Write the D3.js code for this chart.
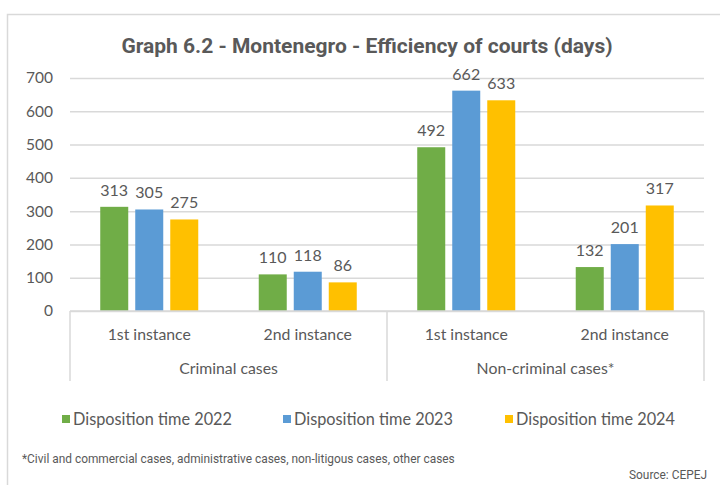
<!DOCTYPE html>
<html>
<head>
<meta charset="utf-8">
<script src="https://cdn.jsdelivr.net/npm/d3@7"></script>
<style>
  body { margin: 0; background: #fff; }
  svg { display: block; }
  text { fill: #595959; }
</style>
</head>
<body>
<svg id="chart" width="720" height="485"></svg>
<script>
// ---- data ----
const groups = ["Criminal cases", "Non-criminal cases*"];
const instances = ["1st instance", "2nd instance", "1st instance", "2nd instance"];
const seriesNames = ["Disposition time 2022", "Disposition time 2023", "Disposition time 2024"];
const dt2022 = [313, 110, 492, 132];
const dt2023 = [305, 118, 662, 201];
const dt2024 = [275, 86, 633, 317];
const yTicks = [0, 100, 200, 300, 400, 500, 600, 700];
const colors = ["#70AD47", "#5B9BD5", "#FFC000"];

const series = [dt2022, dt2023, dt2024];

// ---- layout ----
const svg = d3.select("#chart");
const plot = { left: 70, right: 704, top: 78, bottom: 311 };
const chartFont = "Lato, 'Open Sans', sans-serif";

// chart frame
svg.append("rect")
  .attr("x", 7.5).attr("y", 14.5)
  .attr("width", 730).attr("height", 490)
  .attr("fill", "none").attr("stroke", "#d9d9d9").attr("stroke-width", 1.5);

// title
svg.append("text")
  .attr("x", 367).attr("y", 53)
  .attr("text-anchor", "middle")
  .style("font-family", "Roboto, sans-serif")
  .style("font-weight", "bold")
  .style("font-size", "21px")
  .text("Graph 6.2 - Montenegro - Efficiency of courts (days)");

// scales
const x = d3.scaleBand()
  .domain(d3.range(instances.length))
  .range([plot.left, plot.right])
  .paddingInner(0).paddingOuter(0);

const xs = d3.scaleBand()
  .domain(d3.range(series.length))
  .range([0, x.bandwidth()])
  .paddingInner(0.2).paddingOuter(0.864);

const y = d3.scaleLinear().domain([0, 700]).range([plot.bottom, plot.top]);

// gridlines + y labels
const yAxis = svg.append("g")
  .attr("transform", "translate(" + plot.left + ",0)")
  .call(d3.axisLeft(y).tickValues(yTicks).tickSize(-(plot.right - plot.left)).tickPadding(17));
yAxis.select(".domain").remove();
yAxis.selectAll(".tick line").attr("stroke", "#d9d9d9").attr("stroke-width", 1.5);
yAxis.selectAll(".tick text")
  .style("font-family", chartFont).style("font-size", "15.5px").attr("fill", "#595959");

// bars
series.forEach(function(vals, s) {
  let g = svg.append("g");
  g.selectAll("rect").data(vals).enter().append("rect")
    .attr("x", function(d, i) { return x(i) + xs(s); })
    .attr("y", function(d) { return y(d); })
    .attr("width", xs.bandwidth())
    .attr("height", function(d) { return y(0) - y(d); })
    .attr("fill", colors[s]);
  g.selectAll("text").data(vals).enter().append("text")
    .attr("x", function(d, i) { return x(i) + xs(s) + xs.bandwidth() / 2; })
    .attr("y", function(d) { return y(d) - 11; })
    .attr("text-anchor", "middle")
    .style("font-family", chartFont).style("font-size", "16px")
    .attr("fill", "#404040")
    .text(function(d) { return d; });
});

// category axis (two levels)
const axisCol = "#d9d9d9";
svg.append("line")
  .attr("x1", plot.left).attr("x2", plot.right)
  .attr("y1", plot.bottom).attr("y2", plot.bottom)
  .attr("stroke", axisCol).attr("stroke-width", 1.5);

const perGroup = instances.length / groups.length;
d3.range(groups.length + 1).forEach(function(k) {
  let xx = k < groups.length ? x(k * perGroup) : plot.right;
  svg.append("line")
    .attr("x1", xx).attr("x2", xx)
    .attr("y1", plot.bottom).attr("y2", 381)
    .attr("stroke", axisCol).attr("stroke-width", 1.5);
});

svg.append("g").selectAll("text").data(instances).enter().append("text")
  .attr("x", function(d, i) { return x(i) + x.bandwidth() / 2; })
  .attr("y", 340)
  .attr("text-anchor", "middle")
  .style("font-family", chartFont).style("font-size", "15.8px")
  .text(function(d) { return d; });

svg.append("g").selectAll("text").data(groups).enter().append("text")
  .attr("x", function(d, i) { return (x(i * perGroup) + x((i + 1) * perGroup - 1) + x.bandwidth()) / 2; })
  .attr("y", 374)
  .attr("text-anchor", "middle")
  .style("font-family", chartFont).style("font-size", "15.8px")
  .text(function(d) { return d; });

// legend
const legendX = [62, 283, 505];
const leg = svg.append("g").selectAll("g").data(seriesNames).enter().append("g")
  .attr("transform", function(d, i) { return "translate(" + legendX[i] + ",419)"; });
leg.append("rect")
  .attr("x", 0).attr("y", -4).attr("width", 8).attr("height", 8)
  .attr("fill", function(d, i) { return colors[i]; });
leg.append("text")
  .attr("x", 11).attr("y", 5.5)
  .style("font-family", chartFont).style("font-size", "16.3px")
  .text(function(d) { return d; });

// footnotes
svg.append("text")
  .attr("x", 22).attr("y", 463)
  .style("font-family", "Roboto, sans-serif").style("font-size", "11.9px")
  .attr("fill", "#262626")
  .text("*Civil and commercial cases, administrative cases, non-litigous cases, other cases");

svg.append("text")
  .attr("x", 707).attr("y", 479)
  .attr("text-anchor", "end")
  .style("font-family", "Roboto, sans-serif").style("font-size", "11.9px")
  .attr("fill", "#262626")
  .text("Source: CEPEJ");
</script>
</body>
</html>
